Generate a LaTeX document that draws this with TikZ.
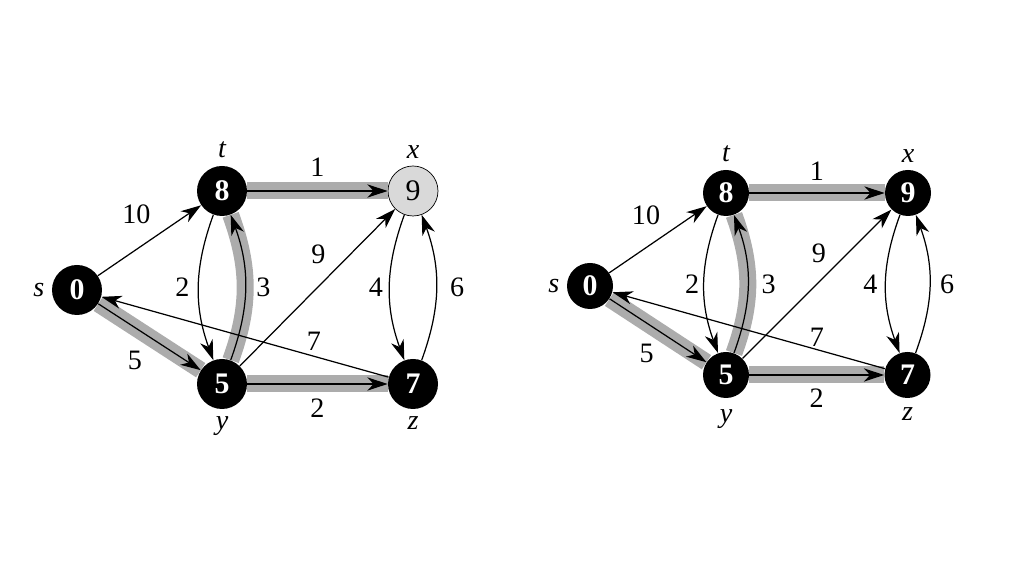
\documentclass[tikz,border=0pt]{standalone}
\usepackage{fontspec}
\setmainfont{Liberation Serif}
\usepackage{tikz}
\usetikzlibrary{arrows.meta}
\tikzstyle{vertex}=[circle,fill=black,text=white,minimum size=1cm,inner sep=0pt,font=\fontsize{17}{17}\selectfont\bfseries]
\tikzstyle{edge} = [draw,line width=0.7pt,->]
\tikzstyle{shaded} = [draw,line width=0.34cm,gray!65]

\begin{document}
\begin{tikzpicture}[>={Stealth[length=11.5pt,width=7.5pt,inset=3.5pt]},
    lab/.style={font=\fontsize{16}{16}\selectfont,inner sep=0pt},
    every label/.style={inner sep=0pt,font=\fontsize{16}{16}\selectfont\itshape},
    label distance=4pt]
      \useasboundingbox (0,0) rectangle (20.48,11.52);
      % before x is taken out
      \node[vertex,label=left:s] (s1) at (1.54,5.72) {0};
      \node[vertex,label=above:t] (t1) at (4.44,7.70) {8};
      \node[vertex,label=above:x,fill=gray!30,draw,thin,text=black,font=\fontsize{17}{17}\selectfont] (x1) at (8.26,7.70) {9};
      \node[vertex,label=below:y] (y1) at (4.44,3.84) {5};
      \node[vertex,label=below:z] (z1) at (8.26,3.84) {7};
      \draw[shaded] (s1) -- (y1);
      \draw[shaded] (y1) to[bend right=20] (t1);
      \draw[shaded] (t1) -- (x1);
      \draw[shaded] (y1) -- (z1);
      \draw[edge] (s1) -- node[lab,pos=0.6,above left=5pt] {10} (t1);
      \draw[edge] (s1) -- node[lab,pos=0.54,below left=6.3pt] {5} (y1);
      \draw[edge] (t1) to[bend right=20] node[lab,left=5pt] {2} (y1);
      \draw[edge] (y1) to[bend right=20] node[lab,right=6pt] {3} (t1);
      \draw[edge] (t1) -- node[lab,above=8pt] {1} (x1);
      \draw[edge] (y1) -- node[lab,pos=0.6,above left=4pt] {9} (x1);
      \draw[edge] (x1) to[bend right=20] node[lab,left=3.5pt] {4} (z1);
      \draw[edge] (z1) to[bend right=20] node[lab,right=7.5pt] {6} (x1);
      \draw[edge] (z1) -- node[lab,pos=0.26,above=2.7pt] {7} (s1);
      \draw[edge] (y1) -- node[lab,below=8pt] {2} (z1);
      % after x
      \node[vertex,minimum size=0.92cm,label=left:s] (s2) at (11.80,5.80) {0};
      \node[vertex,minimum size=0.92cm,label=above:t] (t2) at (14.52,7.66) {8};
      \node[vertex,minimum size=0.92cm,label=above:x] (x2) at (18.16,7.66) {9};
      \node[vertex,minimum size=0.92cm,label={[label distance=6pt]below:y}] (y2) at (14.52,4.02) {5};
      \node[vertex,minimum size=0.92cm,label={[label distance=5pt]below:z}] (z2) at (18.15,4.02) {7};
      \draw[shaded] (s2) -- (y2);
      \draw[shaded] (y2) to[bend right=20] (t2);
      \draw[shaded] (t2) -- (x2);
      \draw[shaded] (y2) -- (z2);
      \draw[edge] (s2) -- node[lab,pos=0.6,above left=4pt] {10} (t2);
      \draw[edge] (s2) -- node[lab,pos=0.56,below left=5.4pt] {5} (y2);
      \draw[edge] (t2) to[bend right=20] node[lab,left=2.5pt] {2} (y2);
      \draw[edge] (y2) to[bend right=20] node[lab,right=7.5pt] {3} (t2);
      \draw[edge] (t2) -- node[lab,above=6.5pt] {1} (x2);
      \draw[edge] (y2) -- node[lab,pos=0.6,above left=3pt] {9} (x2);
      \draw[edge] (x2) to[bend right=20] node[lab,left=4.5pt] {4} (z2);
      \draw[edge] (z2) to[bend right=20] node[lab,right=5.7pt] {6} (x2);
      \draw[edge] (z2) -- node[lab,pos=0.25,above=1.6pt] {7} (s2);
      \draw[edge] (y2) -- node[lab,below=7.7pt] {2} (z2);
    \end{tikzpicture}
\end{document}
